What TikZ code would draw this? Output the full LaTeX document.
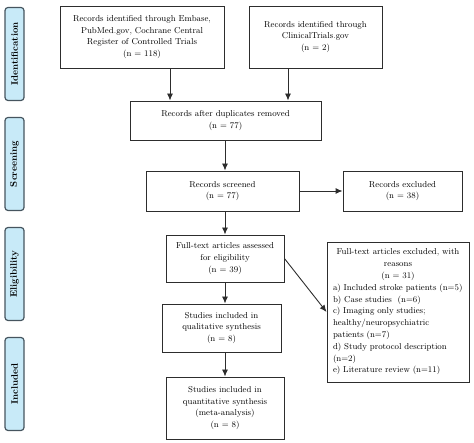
\documentclass[tikz,border=0pt]{standalone}
\usetikzlibrary{arrows.meta}
\definecolor{barfill}{RGB}{200,234,248}
\definecolor{bardraw}{RGB}{70,85,95}
\definecolor{linecol}{RGB}{45,45,45}
\begin{document}
\begin{tikzpicture}[x=1pt,y=-1pt,
  box/.style={draw=linecol,line width=0.9pt,inner sep=2pt,font=\fontsize{8.6}{11.8}\selectfont,align=center},
  bar/.style={draw=bardraw,fill=barfill,line width=1.2pt,rounded corners=3pt,minimum width=19pt,minimum height=93pt,inner sep=0pt},
  barlabel/.style={rotate=90,font=\fontsize{9.5}{11}\selectfont\bfseries},
  arr/.style={draw=linecol,line width=0.9pt,-{Latex[length=7pt,width=6pt]}}]
\useasboundingbox (0,0) rectangle (474,443);
% side bars
\node[bar] (b1) at (14.5,54) {};
\node[barlabel] (l1) at (b1.center) {Identification};
\node[bar] (b2) at (14.5,164) {};
\node[barlabel] (l2) at (b2.center) {Screening};
\node[bar] (b3) at (14.5,274) {};
\node[barlabel] (l3) at (b3.center) {Eligibility};
\node[bar] (b4) at (14.5,384) {};
\node[barlabel] (l4) at (b4.center) {Included};
% boxes
\node[box,minimum width=164pt,minimum height=62pt] (A) at (142,37)
  {Records identified through Embase,\\PubMed.gov, Cochrane Central\\Register of Controlled Trials\\(n = 118)};
\node[box,minimum width=133pt,minimum height=62pt] (B) at (315.5,37)
  {Records identified through\\ClinicalTrials.gov\\(n = 2)};
\node[box,minimum width=191pt,minimum height=39pt] (C) at (225.5,120.5)
  {Records after duplicates removed\\(n = 77)};
\node[box,minimum width=153pt,minimum height=40pt] (D) at (222.5,191)
  {Records screened\\(n = 77)};
\node[box,minimum width=119pt,minimum height=40pt] (E) at (402.5,191)
  {Records excluded\\(n = 38)};
\node[box,minimum width=118pt,minimum height=47pt] (F) at (225,258.5)
  {Full-text articles assessed\\for eligibility\\(n = 39)};
\node[box,minimum width=142pt,minimum height=140pt,inner xsep=6pt,text width=130pt,align=left] (G) at (398,312)
  {\centering Full-text articles excluded, with\\reasons\\(n = 31)\par\raggedright
   a) Included stroke patients (n=5)\\
   b) Case studies\ \ (n=6)\\
   c) Imaging only studies;\\
   healthy/neuropsychiatric\\
   patients (n=7)\\
   d) Study protocol description\\
   (n=2)\\
   e) Literature review (n=11)};
\node[box,minimum width=119pt,minimum height=48pt] (H) at (221.5,328)
  {Studies included in\\qualitative synthesis\\(n = 8)};
\node[box,minimum width=118pt,minimum height=62pt] (I) at (225,408)
  {Studies included in\\quantitative synthesis\\(meta-analysis)\\(n = 8)};
% guide coordinates
\coordinate (xa) at (170,0);
\coordinate (xb) at (288,0);
\coordinate (xm) at (225,0);
% connectors
\draw[arr] (A.south -| xa) -- (C.north -| xa);
\draw[arr] (B.south -| xb) -- (C.north -| xb);
\draw[arr] (C.south -| xm) -- (D.north -| xm);
\draw[arr] (D.east) -- (E.west);
\draw[arr] (D.south -| xm) -- (F.north -| xm);
\draw[arr] (F.east) -- (G.west);
\draw[arr] (F.south -| xm) -- (H.north -| xm);
\draw[arr] (H.south -| xm) -- (I.north -| xm);
\end{tikzpicture}
\end{document}
